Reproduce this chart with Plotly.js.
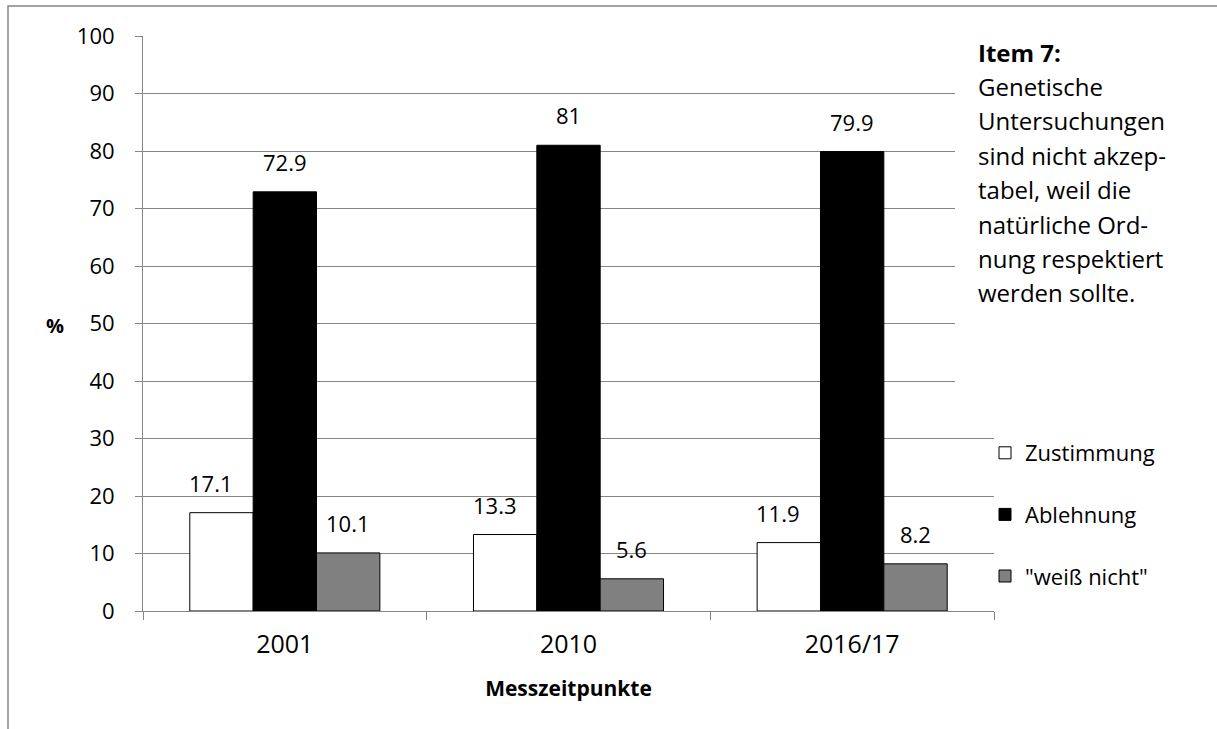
<!DOCTYPE html>
<html>
<head>
<meta charset="utf-8">
<script src="https://cdn.plot.ly/plotly-3.0.1.min.js"></script>
<style>
html, body { margin: 0; padding: 0; background: #fff; }
#chart { width: 1217px; height: 729px; }
</style>
</head>
<body>
<div id="chart"></div>
<script>
// ---- data ----
var categories = ["2001", "2010", "2016/17"];
var seriesNames = ["Zustimmung", "Ablehnung", "\"weiß nicht\""];
var zustimmung = [17.1, 13.3, 11.9];
var ablehnung = [72.9, 81, 79.9];
var weissNicht = [10.1, 5.6, 8.2];
var yTickValues = [0, 10, 20, 30, 40, 50, 60, 70, 80, 90, 100];
var itemLines = ["Item 7:", "Genetische", "Untersuchungen", "sind nicht akzep-", "tabel, weil die", "natürliche Ord-", "nung respektiert", "werden sollte."];
var xAxisTitle = "Messzeitpunkte";
var yAxisTitle = "%";

// ---- styling ----
var FONT = "Open Sans, Arial, sans-serif";
var fills = ["#ffffff", "#000000", "#808080"];
var seriesValues = [zustimmung, ablehnung, weissNicht];

// plot geometry (pixels)
var W = 1217, H = 729;
var mL = 143, mR = 223, mT = 36, mB = 118;
var pw = W - mL - mR, ph = H - mT - mB;
function px2x(p) { return (p - mL) / pw; }
function py2y(p) { return (H - mB - p) / ph; }

var traces = seriesNames.map(function (name, i) {
  return {
    type: "bar",
    name: name,
    x: categories,
    y: seriesValues[i],
    marker: { color: fills[i], line: { color: "#000000", width: 1 } },
    legendgroup: "g" + i,
    hoverinfo: "x+y+name"
  };
});

// data labels
var barPx = 63;
var labelXShift = [-11, 0, 0];
var annotations = [];
seriesValues.forEach(function (vals, i) {
  vals.forEach(function (v, j) {
    annotations.push({
      x: j, y: v, xref: "x", yref: "y",
      text: String(v), showarrow: false,
      xshift: (i - 1) * barPx + labelXShift[i], yshift: 13,
      yanchor: "bottom", xanchor: "center",
      font: { family: FONT, size: 22, color: "#000" }
    });
  });
});

// item text box lines
var lineTop = 52, lineStep = 34.4;
itemLines.forEach(function (t, k) {
  annotations.push({
    xref: "paper", yref: "paper",
    x: px2x(976), y: py2y(lineTop + k * lineStep),
    xanchor: "left", yanchor: "middle", showarrow: false,
    text: k === 0 ? "<b>" + t + "</b>" : t,
    font: { family: FONT, size: 24, color: "#000" }
  });
});

// y axis title (horizontal)
annotations.push({
  xref: "paper", yref: "paper", x: px2x(55), y: py2y(325),
  xanchor: "center", yanchor: "middle", showarrow: false,
  text: "<b>" + yAxisTitle + "</b>",
  font: { family: FONT, size: 20, color: "#000" }
});

var shapes = [
  // white background of the item text box (covers gridlines)
  { type: "rect", xref: "paper", yref: "paper", layer: "above",
    x0: px2x(955), x1: px2x(1000), y0: py2y(408), y1: py2y(20),
    fillcolor: "#ffffff", line: { width: 0 } },
  // outer chart frame
  { type: "rect", xref: "paper", yref: "paper", layer: "above",
    x0: px2x(8), x1: px2x(1240), y0: py2y(760), y1: py2y(6),
    fillcolor: "rgba(0,0,0,0)", line: { color: "#868686", width: 1.5 } }
];

var layout = {
  width: W, height: H,
  margin: { l: mL, r: mR, t: mT, b: mB, pad: 0 },
  paper_bgcolor: "#ffffff", plot_bgcolor: "#ffffff",
  font: { family: FONT, size: 22, color: "#000" },
  barmode: "group", bargap: 0.33, bargroupgap: 0,
  showlegend: true,
  legend: {
    x: px2x(985), y: py2y(432), xanchor: "left", yanchor: "top",
    xref: "paper", yref: "paper",
    font: { family: FONT, size: 22, color: "#000" },
    traceorder: "grouped", tracegroupgap: 30,
    bgcolor: "rgba(0,0,0,0)", borderwidth: 0
  },
  xaxis: {
    type: "category",
    range: [-0.5, categories.length - 0.5], autorange: false,
    showgrid: false, zeroline: false,
    showline: true, linecolor: "#868686", linewidth: 1,
    ticks: "outside", ticklen: 8, tickcolor: "#868686", tickwidth: 1,
    tickson: "boundaries", tickangle: 0,
    ticklabelstandoff: 11,
    tickfont: { family: FONT, size: 25, color: "#000" },
    title: { text: "<b>" + xAxisTitle + "</b>", standoff: 22,
             font: { family: FONT, size: 21, color: "#000" } }
  },
  yaxis: {
    range: [0, 100], autorange: false,
    tickvals: yTickValues, ticktext: yTickValues.map(String),
    showgrid: true, gridcolor: "#868686", gridwidth: 1,
    zeroline: false,
    showline: true, linecolor: "#868686", linewidth: 1,
    ticks: "outside", ticklen: 7, tickcolor: "#868686", tickwidth: 1,
    ticklabelstandoff: 16,
    tickfont: { family: FONT, size: 22, color: "#000" }
  },
  annotations: annotations,
  shapes: shapes
};

Plotly.newPlot("chart", traces, layout, { displayModeBar: false, staticPlot: true });
</script>
</body>
</html>
